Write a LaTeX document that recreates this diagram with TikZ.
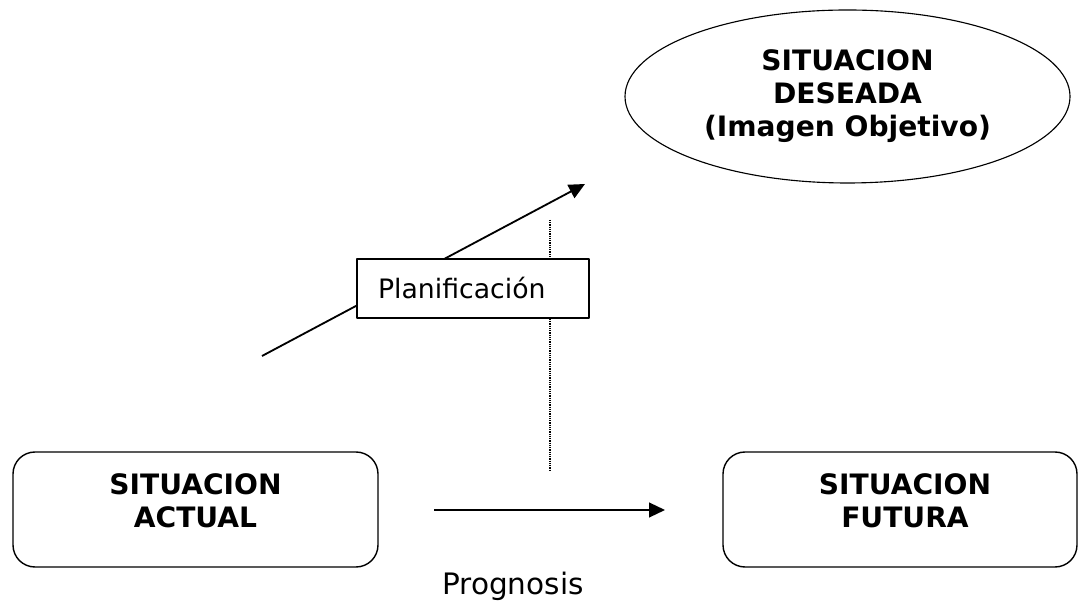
\documentclass[tikz,border=0pt]{standalone}
\usepackage{fontspec}
\setmainfont{DejaVu Sans}
\usetikzlibrary{arrows.meta,shapes.geometric}
\begin{document}
\begin{tikzpicture}[>={Triangle[length=0.4cm,width=0.37cm]},line join=round,
	font=\fontsize{19}{23}\selectfont,
	sitbox/.style={draw,line width=1pt,rounded corners=0.55cm,minimum width=#1,minimum height=2.875cm},
	sitlbl/.style={font=\fontsize{20}{23.5}\selectfont\bfseries,align=center,inner sep=0pt},
	planbox/.style={draw,line width=1.2pt,fill=white,inner xsep=0.525cm,text width=4.75cm,align=left,minimum height=1.475cm}]
	\useasboundingbox (0,0) rectangle (27,15.075);
	\path
	(6.55,6.175) coordinate (P1)
	(14.625,10.475) coordinate (P2)
	(10.85,2.325) coordinate (R1)
	(16.625,2.325) coordinate (R2)
	(13.75,9.575) coordinate (D1)
	(13.75,3.325) coordinate (D2);
	% hai hop duoi
	\node[sitbox=9.125cm] (actual) at (4.8875,2.3375) {};
	\node[sitlbl] (actualtxt) at (4.8875,2.55) {SITUACION\\ACTUAL};
	\node[sitbox=8.85cm] (futura) at (22.5,2.3375) {};
	\node[sitlbl] (futuratxt) at (22.625,2.55) {SITUACION\\FUTURA};
	% elip tren
	\node[draw,ellipse,line width=0.8pt,minimum width=11.125cm,minimum height=4.325cm,
		font=\fontsize{20}{23.5}\selectfont\bfseries,align=center] (deseada) at (21.1875,12.6625)
		{SITUACION\\DESEADA\\(Imagen Objetivo)};
	% cac mui ten
	\draw[dash pattern=on 0.8pt off 0.8pt,line width=0.8pt] (D1)--(D2);
	\draw[->,line width=1.3pt] (P1)--(P2);
	\draw[->,line width=1.3pt] (R1)--(R2);
	\node[planbox] (plan) at (11.825,7.8625) {Planificación};
	\node[anchor=base,font=\fontsize{21}{25}\selectfont] (prog) at (12.825,0.2) {Prognosis};
\end{tikzpicture}
\end{document}
